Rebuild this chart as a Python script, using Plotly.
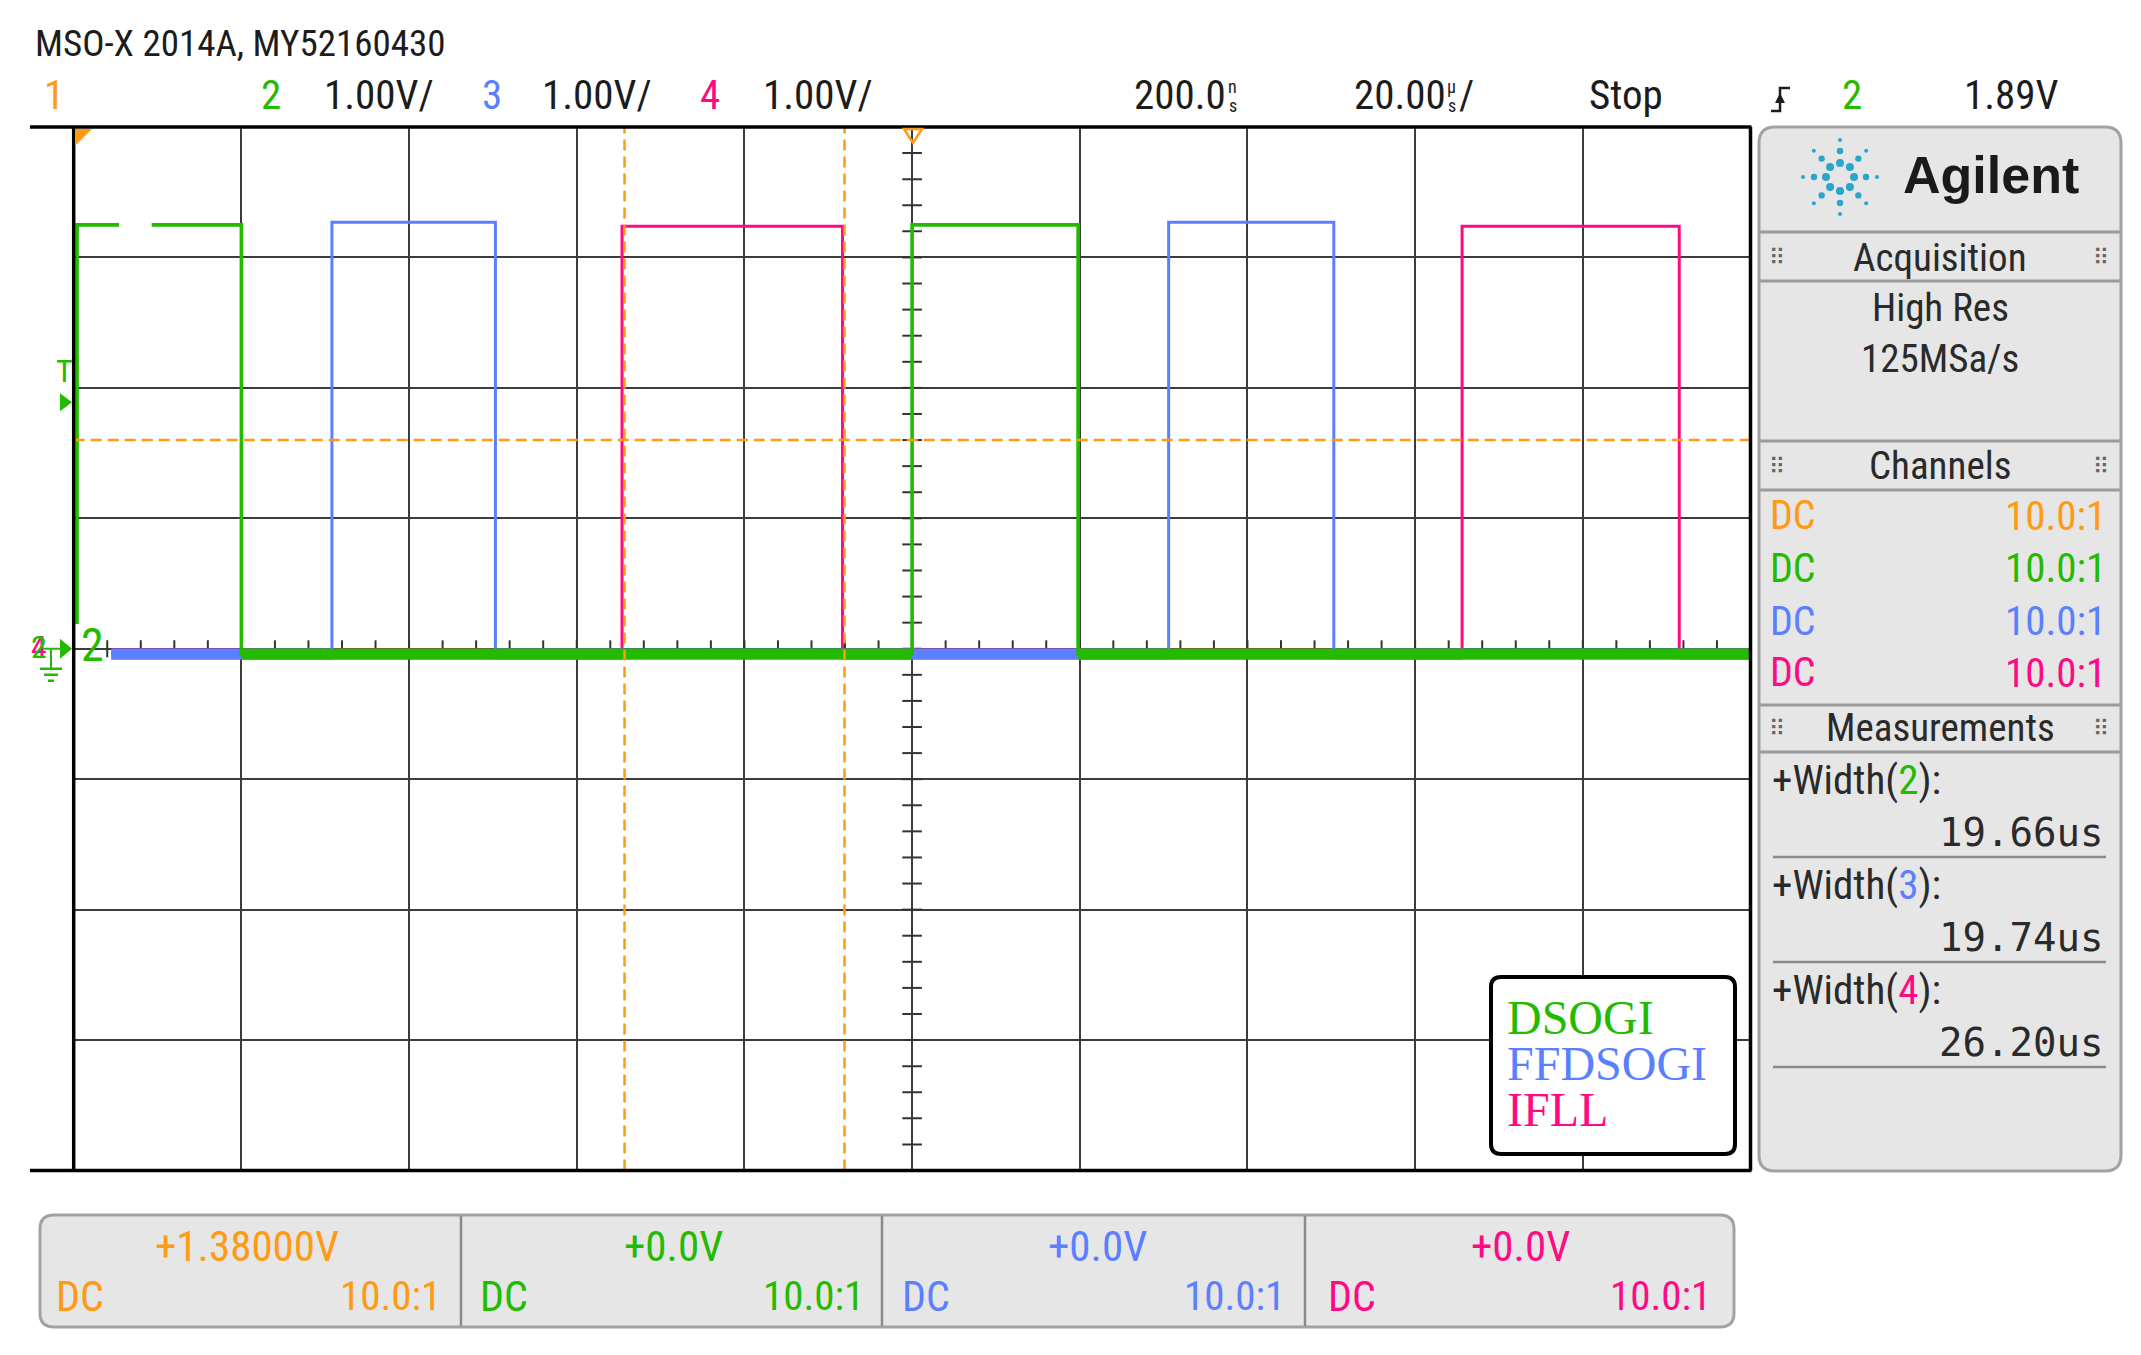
import math

import plotly.graph_objects as go

W, H = 2141, 1355

# graticule position on the screen (pixels)
GRID_L, GRID_R, GRID_T, GRID_B = 73.7, 1750.5, 127.0, 1170.5

# ---- data -------------------------------------------------------------
time_range_us = [-100, 100]      # 20.00 us/div, 10 divisions
volt_range = [-4, 4]             # 1.00 V/div, 8 divisions

series_names = ["DSOGI", "FFDSOGI", "IFLL"]
series_channels = ["2", "3", "4"]
series_colors = ["#22bb00", "#5b7fff", "#ff0a85"]
ORANGE = "#ff9a12"

dsogi_rise_us = [-99.6, 0.0]
dsogi_fall_us = [-80.0, 19.8]
dsogi_dropout_us = [(-94.6, -90.7)]
ffdsogi_rise_us = [-69.2, 30.6]
ffdsogi_fall_us = [-49.7, 50.3]
ifll_rise_us = [-34.6, 65.6]
ifll_fall_us = [-8.3, 91.5]

high_v = [3.25, 3.27, 3.24]
low_v = -0.04
start_us = [-99.6, -95.5, -95.5]
start_v = [0.19, low_v, low_v]
end_us = 99.8

cursor_t_us = [-34.3, -8.06]
cursor_v = 1.60
trigger_v = 1.89

acq_mode = "High Res"
acq_rate = "125MSa/s"
probe_ratio = "10.0:1"
coupling = "DC"
channel_colors = [ORANGE] + series_colors
channel_offsets = ["+1.38000V", "+0.0V", "+0.0V", "+0.0V"]
measure_values = ["19.66us", "19.74us", "26.20us"]

NARROW = "Roboto Condensed, Liberation Sans Narrow, DejaVu Sans Condensed, Arial Narrow, sans-serif"
MONO = "DejaVu Sans Mono, Liberation Mono, monospace"
SERIF = "Liberation Serif, DejaVu Serif, Times New Roman, serif"
INK = "#1c1c1c"
PANEL_FILL = "#e6e6e6"
PANEL_LINE = "#a2a2a2"


def X(x):
    return x / W


def Y(y):
    return 1 - y / H


def step_wave(rises, falls, high, low, t0, v0, t1, gaps=()):
    edges = sorted([(t, high) for t in rises] + [(t, low) for t in falls])
    xs, ys = [t0], [v0]
    level = v0
    for t, new in edges:
        xs += [t, t]
        ys += [level, new]
        level = new
    xs.append(t1)
    ys.append(level)
    for a, b in gaps:
        i = next(k for k, t in enumerate(xs) if t > a)
        lv = ys[i - 1]
        xs[i:i] = [a, None, b]
        ys[i:i] = [lv, None, lv]
    return xs, ys


shapes = []
annotations = []


def line(x0, y0, x1, y1, color, width, dash=None):
    shapes.append(dict(type="line", xref="paper", yref="paper",
                       x0=X(x0), y0=Y(y0), x1=X(x1), y1=Y(y1),
                       line=dict(color=color, width=width, dash=dash)))


def poly(points, fill=None, color=None, width=0, closed=True):
    d = "M " + " L ".join(f"{X(a):.5f},{Y(b):.5f}" for a, b in points)
    if closed:
        d += " Z"
    shapes.append(dict(type="path", xref="paper", yref="paper", path=d,
                       fillcolor=fill or "rgba(0,0,0,0)",
                       line=dict(color=color or "rgba(0,0,0,0)", width=width)))


def rrect(x0, y0, x1, y1, r, fill, color, width):
    p = (f"M {X(x0 + r)},{Y(y0)} L {X(x1 - r)},{Y(y0)} Q {X(x1)},{Y(y0)} {X(x1)},{Y(y0 + r)} "
         f"L {X(x1)},{Y(y1 - r)} Q {X(x1)},{Y(y1)} {X(x1 - r)},{Y(y1)} "
         f"L {X(x0 + r)},{Y(y1)} Q {X(x0)},{Y(y1)} {X(x0)},{Y(y1 - r)} "
         f"L {X(x0)},{Y(y0 + r)} Q {X(x0)},{Y(y0)} {X(x0 + r)},{Y(y0)} Z")
    shapes.append(dict(type="path", xref="paper", yref="paper", path=p,
                       fillcolor=fill, line=dict(color=color, width=width)))


def label(x, y, text, color=INK, size=40, family=NARROW, xanchor="left"):
    annotations.append(dict(x=X(x), y=Y(y), xref="paper", yref="paper", text=text,
                            showarrow=False, xanchor=xanchor, yanchor="middle",
                            borderpad=0, borderwidth=0,
                            font=dict(family=family, size=size, color=color)))


fig = go.Figure()

# graticule ticks on the centre axes
fig.add_trace(go.Scatter(
    x=[0] * 39, y=[-3.8 + 0.2 * k for k in range(39)], mode="markers",
    marker=dict(symbol="line-ew", size=14, line=dict(color="#333333", width=2)),
    hoverinfo="skip", showlegend=False))
fig.add_trace(go.Scatter(
    x=[-96 + 4 * k for k in range(49)], y=[0] * 49, mode="markers",
    marker=dict(symbol="line-ns", size=12, line=dict(color="#333333", width=2)),
    hoverinfo="skip", showlegend=False))

# waveforms (drawn IFLL, FFDSOGI, DSOGI so the DSOGI trace is on top)
waves = [
    step_wave(dsogi_rise_us, dsogi_fall_us, high_v[0], low_v, start_us[0], start_v[0], end_us, dsogi_dropout_us),
    step_wave(ffdsogi_rise_us, ffdsogi_fall_us, high_v[1], low_v, start_us[1], start_v[1], end_us),
    step_wave(ifll_rise_us, ifll_fall_us, high_v[2], low_v, start_us[2], start_v[2], end_us),
]
thin = [3.6, 3.0, 3.0]
for i in [2, 1, 0]:
    xs, ys = waves[i]
    fig.add_trace(go.Scatter(x=xs, y=ys, mode="lines", name=series_names[i],
                             line=dict(color=series_colors[i], width=thin[i]),
                             hoverinfo="skip", showlegend=False))
    band = [v if v == low_v else None for v in ys]
    fig.add_trace(go.Scatter(x=xs, y=band, mode="lines", name=series_names[i] + " low",
                             line=dict(color=series_colors[i], width=11),
                             hoverinfo="skip", showlegend=False))

# cursors
for t in cursor_t_us:
    shapes.append(dict(type="line", xref="x", yref="paper", x0=t, x1=t,
                       y0=Y(GRID_B), y1=Y(GRID_T),
                       line=dict(color=ORANGE, width=2.5, dash="11px,6px")))
shapes.append(dict(type="line", xref="paper", yref="y", x0=X(GRID_L), x1=X(GRID_R),
                   y0=cursor_v, y1=cursor_v,
                   line=dict(color=ORANGE, width=2.5, dash="11px,6px")))

# screen frame
line(30, GRID_T, GRID_R + 1, GRID_T, "#000000", 3.5)
line(30, GRID_B, GRID_R + 1, GRID_B, "#000000", 3.5)
line(GRID_L, GRID_T, GRID_L, GRID_B, "#000000", 3.5)
line(GRID_R, GRID_T, GRID_R, GRID_B, "#000000", 3.5)

# markers on the screen edge
poly([(75, 129), (92, 129), (75, 146)], fill=ORANGE)
poly([(904, 129), (922, 129), (913, 143)], color=ORANGE, width=2.5)
trig_y = GRID_T + (volt_range[1] - trigger_v) / (volt_range[1] - volt_range[0]) * (GRID_B - GRID_T)
poly([(60, trig_y - 9), (72, trig_y), (60, trig_y + 9)], fill=series_colors[0])
label(56, trig_y - 31, "T", series_colors[0], 32)
gnd_y = GRID_T + volt_range[1] / (volt_range[1] - volt_range[0]) * (GRID_B - GRID_T)
poly([(60, gnd_y - 10), (72, gnd_y), (60, gnd_y + 10)], fill=series_colors[0])
line(42, gnd_y, 60, gnd_y, series_colors[0], 2)
line(51, gnd_y, 51, gnd_y + 20, series_colors[0], 2)
line(40, gnd_y + 20, 62, gnd_y + 20, series_colors[0], 2.5)
line(44, gnd_y + 26, 58, gnd_y + 26, series_colors[0], 2.5)
line(48, gnd_y + 32, 54, gnd_y + 32, series_colors[0], 2.5)
label(31, gnd_y - 2, "4", series_colors[2], 32)
label(31, gnd_y - 2, "2", series_colors[0], 32)
label(81, gnd_y - 4, "2", series_colors[0], 46)

# legend box
rrect(1491, 977, 1735, 1154, 10, "#ffffff", "#000000", 4)
for k, (name, col) in enumerate(zip(series_names, series_colors)):
    label(1507, 1017 + 46 * k, name, col, 48, SERIF)

# header text
label(35, 43, "MSO-X 2014A, MY52160430", INK, 37)
label(44, 95, "1", ORANGE, 41)
for x_ch, x_val, ch, col in zip([261, 482, 700], [324, 542, 763], series_channels, series_colors):
    label(x_ch, 95, ch, col, 41)
    label(x_val, 95, "1.00V/", INK, 41)
label(1226, 95, "200.0", INK, 41, NARROW, "right")
label(1228, 86, "n", INK, 18)
label(1229, 105, "s", INK, 18)
label(1446, 95, "20.00", INK, 41, NARROW, "right")
label(1447, 86, "µ", INK, 18)
label(1448, 105, "s", INK, 18)
label(1459, 95, "/", INK, 41)
label(1589, 95, "Stop", INK, 41)
poly([(1771, 111), (1780, 111), (1780, 88), (1790, 88)], color=INK, width=2.5, closed=False)
poly([(1775, 103), (1785, 103), (1780, 93)], fill=INK)
label(1842, 95, "2", series_colors[0], 41)
label(1964, 95, "1.89V", INK, 41)

# right-hand panel
rrect(1759, 127, 2121, 1171, 16, PANEL_FILL, PANEL_LINE, 3)
for y in [232, 281, 441, 490, 705, 752]:
    line(1760, y, 2120, y, "#9a9a9a", 3)
for y in [857, 962, 1067]:
    line(1773, y, 2106, y, "#8a8a8a", 2.5)
for k in range(8):
    ang = math.pi / 4 * k
    for r, s in zip([14, 26, 37], [4.0, 3.2, 2.0]):
        cx, cy = 1840 + r * math.cos(ang), 177 + r * math.sin(ang)
        shapes.append(dict(type="circle", xref="paper", yref="paper",
                           x0=X(cx - s), x1=X(cx + s), y0=Y(cy + s), y1=Y(cy - s),
                           fillcolor="#2aa6cc", line=dict(width=0)))
label(1991, 175, "<b>Agilent</b>", "#1a1a1a", 52, "Liberation Sans, Arial, sans-serif", "center")
for y, title in [(258, "Acquisition"), (466, "Channels"), (728, "Measurements")]:
    label(1940, y, title, "#2a2a2a", 39, NARROW, "center")
    label(1777, y, "⠿", "#666666", 22, "DejaVu Sans", "center")
    label(2101, y, "⠿", "#666666", 22, "DejaVu Sans", "center")
label(1940, 308, acq_mode, "#2a2a2a", 39, NARROW, "center")
label(1940, 359, acq_rate, "#2a2a2a", 39, NARROW, "center")
for y, col in zip([516, 568, 621, 673], channel_colors):
    label(1770, y, coupling, col, 40)
    label(2106, y, probe_ratio, col, 41, NARROW, "right")
for k, (ch, col, val) in enumerate(zip(series_channels, series_colors, measure_values)):
    y0 = 780 + 105 * k
    label(1772, y0, f"+Width(<span style='color:{col}'>{ch}</span>):", "#2a2a2a", 41)
    label(2103, y0 + 52, val, "#2a2a2a", 39, MONO, "right")

# bottom channel bar
rrect(40, 1215, 1734, 1327, 14, PANEL_FILL, PANEL_LINE, 3)
for x in [461, 882, 1305]:
    line(x, 1216, x, 1326, "#8a8a8a", 2.5)
for cx, dc_x, ratio_x, off, col in zip([247, 673, 1097, 1520], [56, 480, 902, 1328],
                                       [441, 864, 1285, 1711], channel_offsets, channel_colors):
    label(cx, 1246, off, col, 43, NARROW, "center")
    label(dc_x, 1296, coupling, col, 42)
    label(ratio_x, 1296, probe_ratio, col, 41, NARROW, "right")

fig.update_layout(
    width=W, height=H,
    margin=dict(l=0, r=0, t=0, b=0),
    paper_bgcolor="white",
    plot_bgcolor="white",
    showlegend=False,
    hovermode=False,
    shapes=shapes,
    annotations=annotations,
    xaxis=dict(domain=[X(GRID_L), X(GRID_R)], range=time_range_us, dtick=20, tick0=0,
               showgrid=True, gridcolor="#3c3c3c", gridwidth=2, zeroline=False,
               showticklabels=False, ticks="", showline=False, fixedrange=True),
    yaxis=dict(domain=[Y(GRID_B), Y(GRID_T)], range=volt_range, dtick=1, tick0=0,
               showgrid=True, gridcolor="#3c3c3c", gridwidth=2, zeroline=False,
               showticklabels=False, ticks="", showline=False, fixedrange=True),
)

fig.write_html("out.html", config={"displayModeBar": False},
               post_script="document.body.style.margin='0px';")
